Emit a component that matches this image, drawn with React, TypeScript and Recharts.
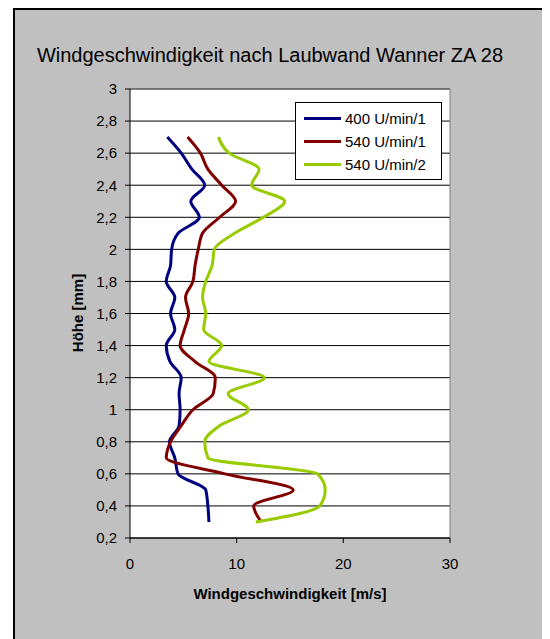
import React from 'react';
import { LineChart, Line, XAxis, YAxis, CartesianGrid, ReferenceLine } from 'recharts';

const heights = [0.3, 0.4, 0.5, 0.6, 0.7, 0.8, 0.9, 1.0, 1.1, 1.2, 1.3, 1.4, 1.5, 1.6, 1.7, 1.8, 1.9, 2.0, 2.1, 2.2, 2.3, 2.4, 2.5, 2.6, 2.7];

// Windgeschwindigkeit [m/s] per Höhe
const u400_1 = [7.4, 7.3, 7.1, 4.5, 4.2, 3.7, 4.6, 4.7, 4.6, 4.8, 3.75, 3.4, 4.2, 3.8, 4.2, 3.4, 3.8, 3.9, 4.5, 6.5, 5.7, 7.0, 5.8, 4.8, 3.5];
const u540_1 = [12.3, 11.6, 15.3, 8.9, 3.4, 3.8, 4.8, 5.9, 7.8, 8.0, 6.1, 4.7, 5.1, 5.5, 5.2, 5.9, 6.1, 6.4, 6.8, 8.4, 9.9, 8.6, 7.3, 6.6, 5.4];
const u540_2 = [11.8, 17.8, 18.3, 17.6, 7.3, 7.0, 8.4, 11.1, 9.2, 12.6, 7.4, 8.6, 6.9, 7.1, 6.8, 7.1, 7.7, 7.9, 9.8, 12.5, 14.5, 11.4, 12.1, 9.3, 8.3];

const yTicks = [0.2, 0.4, 0.6, 0.8, 1, 1.2, 1.4, 1.6, 1.8, 2, 2.2, 2.4, 2.6, 2.8, 3];
const xTicks = [0, 10, 20, 30];

const series = [
  { key: 'a', name: '400 U/min/1', color: '#000080', values: u400_1 },
  { key: 'b', name: '540 U/min/1', color: '#800000', values: u540_1 },
  { key: 'c', name: '540 U/min/2', color: '#99CC00', values: u540_2 },
];

const data = heights.map((h, i) => ({
  h,
  a: u400_1[i],
  b: u540_1[i],
  c: u540_2[i],
}));

const FONT = '"Liberation Sans", Arial, sans-serif';

const fmt = (v: number) => String(Number(v.toFixed(1))).replace('.', ',');

const LegendBox = () => (
  <div
    style={{
      position: 'absolute',
      left: 287,
      top: 94,
      background: '#fff',
      border: '1px solid #000',
      width: 145,
      padding: '4px 0 3px 0',
      fontFamily: FONT,
      fontSize: 15,
      color: '#000',
    }}
  >
    {series.map((s) => (
      <div key={s.key} style={{ display: 'flex', alignItems: 'center', height: 23 }}>
        <div style={{ width: 37, height: 3, background: s.color, marginLeft: 8, marginRight: 4 }} />
        <span>{s.name}</span>
      </div>
    ))}
  </div>
);

export default function App() {
  return (
    <div style={{ position: 'relative', width: 542, height: 631, fontFamily: FONT }}>
      <div
        style={{
          position: 'absolute',
          left: 5,
          top: 0,
          right: 0,
          bottom: 0,
          background: '#c0c0c0',
          borderLeft: '2px solid #000',
          borderTop: '2px solid #000',
        }}
      />
      <div
        style={{
          position: 'absolute',
          left: 0,
          top: 36,
          width: 524,
          textAlign: 'center',
          fontSize: 20,
          color: '#000',
        }}
      >
        Windgeschwindigkeit nach Laubwand Wanner ZA 28
      </div>
      <LineChart
        width={542}
        height={631}
        data={data}
        layout="vertical"
        margin={{ top: 81, right: 100, bottom: 0, left: 0 }}
        style={{ position: 'absolute', left: 0, top: 0 }}
      >
        <CartesianGrid horizontal vertical={false} stroke="#000" fill="#fff" />
        <XAxis
          type="number"
          domain={[0, 30]}
          ticks={xTicks}
          stroke="#000"
          tickSize={5}
          tickMargin={15}
          tick={{ fill: '#000', fontSize: 15, fontFamily: FONT }}
          height={101}
          label={{
            content: () => (
              <text x={282} y={585} textAnchor="middle" dominantBaseline="central" fontSize={15} fontWeight="bold" fontFamily={FONT} fill="#000">
                Windgeschwindigkeit [m/s]
              </text>
            ),
          }}
        />
        <YAxis
          type="number"
          dataKey="h"
          domain={[0.2, 3]}
          ticks={yTicks}
          interval={0}
          reversed
          tickFormatter={fmt}
          stroke="#000"
          tickSize={5}
          tickMargin={8}
          width={122}
          tick={{ fill: '#000', fontSize: 15, fontFamily: FONT }}
          label={{
            content: () => (
              <text x={69} y={305} transform="rotate(-90 69 305)" textAnchor="middle" dominantBaseline="central" fontSize={15} fontWeight="bold" fontFamily={FONT} fill="#000">
                Höhe [mm]
              </text>
            ),
          }}
        />
        <ReferenceLine y={3} stroke="#808080" />
        <ReferenceLine x={30} stroke="#808080" />
        {series.map((s) => (
          <Line
            key={s.key}
            dataKey={s.key}
            name={s.name}
            type="monotone"
            stroke={s.color}
            strokeWidth={3}
            dot={false}
            activeDot={false}
            isAnimationActive={false}
          />
        ))}
      </LineChart>
      <LegendBox />
    </div>
  );
}
